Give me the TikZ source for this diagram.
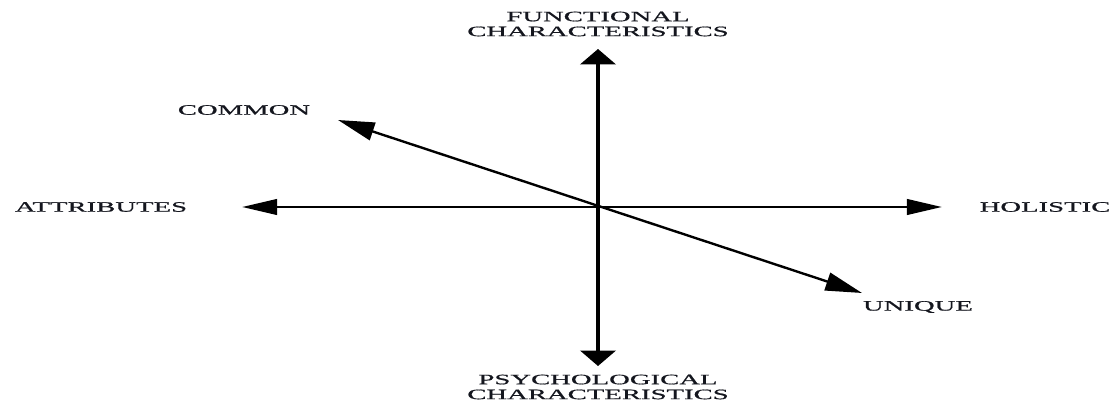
\documentclass[tikz,border=0pt]{standalone}
\usepackage{fontspec}
\setmainfont[FakeStretch=2.0,FakeBold=0.8]{Liberation Serif}
\usepackage{tikz}
\usetikzlibrary{arrows.meta}
\definecolor{inkdark}{RGB}{20,22,30}
\tikzset{
  axislabel/.style={font=\fontsize{10.2}{10.6}\selectfont, text=inkdark, align=center, inner sep=0pt},
  vaxis/.style={line width=3.4pt, {Triangle[length=11pt,width=25pt]}-{Triangle[length=11pt,width=25pt]}},
  haxis/.style={line width=2.0pt, {Triangle[length=25pt,width=11pt]}-{Triangle[length=25pt,width=11pt]}},
  daxis/.style={line width=1.7pt, {Triangle[length=26pt,width=13pt]}-{Triangle[length=26pt,width=13pt]}}}
\begin{document}
\begin{tikzpicture}[x=0.025cm, y=-0.025cm]
  \useasboundingbox (0,0) rectangle (1114,406);
  % axis ends
  \coordinate (o) at (598,207);
  \coordinate (functip) at (598,49);
  \coordinate (psychtip) at (598,366);
  \coordinate (attrtip) at (242,207);
  \coordinate (holtip) at (942,207);
  \coordinate (commtip) at (338,120);
  \coordinate (uniqtip) at (862,293);
  % axes
  \draw[vaxis] (functip) -- (psychtip);
  \draw[haxis] (attrtip) -- (holtip);
  \draw[daxis] (commtip) -- (uniqtip);
  % labels
  \node[axislabel] (func) at (598,24) {FUNCTIONAL\\CHARACTERISTICS};
  \node[axislabel] (psych) at (598,387) {PSYCHOLOGICAL\\CHARACTERISTICS};
  \node[axislabel] (attr) at (101,207) {ATTRIBUTES};
  \node[axislabel] (hol) at (1045,207) {HOLISTIC};
  \node[axislabel] (comm) at (244,110) {COMMON};
  \node[axislabel] (uniq) at (918,307) {UNIQUE};
\end{tikzpicture}
\end{document}
